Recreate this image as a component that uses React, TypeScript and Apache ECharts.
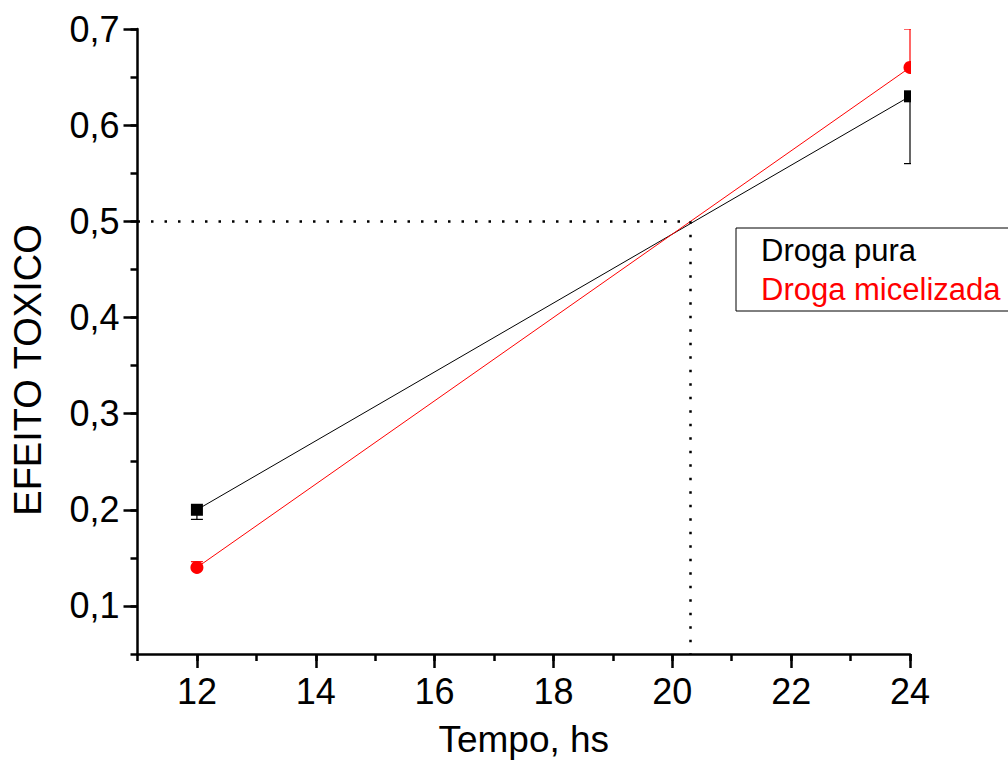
import React, { useEffect, useRef } from "react";
import * as echarts from "echarts";

// Time points (hours)
const timeHours = [12, 24];

// Toxic effect, pure drug (error shown downward)
const pureEffect = [0.2, 0.63];
const pureErrorDown = [0.01, 0.07];

// Toxic effect, micellized drug (error shown upward)
const micelleEffect = [0.14, 0.66];
const micelleErrorUp = [0.006, 0.04];

// Reference guide: 50% effect crossing
const crossTime = 20.3;
const crossEffect = 0.5;

const xMajorTicks = [12, 14, 16, 18, 20, 22, 24];
const yMajorTicks = [0.1, 0.2, 0.3, 0.4, 0.5, 0.6, 0.7];

const X_MIN = 11;
const X_MAX = 24;
const Y_MIN = 0.05;
const Y_MAX = 0.7;

const FONT = "'Liberation Sans', Arial, sans-serif";
const RED = "#ff0000";

type Marker = "square" | "circle";

function errorSeries(
  name: string,
  ys: number[],
  errs: number[],
  dir: 1 | -1,
  color: string,
  marker: Marker
) {
  const data = timeHours.map((t, i) => [t, ys[i], ys[i] + dir * errs[i]]);
  return {
    type: "custom",
    name: name + " (erro)",
    xAxisIndex: 0,
    yAxisIndex: 0,
    clip: true,
    silent: true,
    z: 5,
    data,
    renderItem: (_params: any, api: any) => {
      const x = api.value(0);
      const y = api.value(1);
      const e = api.value(2);
      const c = api.coord([x, y]);
      const ce = api.coord([x, e]);
      const capHalf = 6;
      const children: any[] = [
        {
          type: "line",
          shape: { x1: c[0], y1: c[1], x2: ce[0], y2: ce[1] },
          style: { stroke: color, lineWidth: 1.2 },
        },
        {
          type: "line",
          shape: { x1: ce[0] - capHalf, y1: ce[1], x2: ce[0] + capHalf, y2: ce[1] },
          style: { stroke: color, lineWidth: 1.2 },
        },
      ];
      if (marker === "square") {
        children.push({
          type: "rect",
          shape: { x: c[0] - 6, y: c[1] - 6, width: 12, height: 12 },
          style: { fill: color },
        });
      } else {
        children.push({
          type: "circle",
          shape: { cx: c[0], cy: c[1], r: 6.5 },
          style: { fill: color },
        });
      }
      return { type: "group", children };
    },
  };
}

export default function App() {
  const ref = useRef<HTMLDivElement>(null);

  useEffect(() => {
    if (!ref.current) return;
    const chart = echarts.init(ref.current, undefined, { renderer: "svg" });

    const axisLineStyle = { color: "#000", width: 2.5 };
    const tickStyle = { color: "#000", width: 2.5 };

    chart.setOption({
      animation: false,
      backgroundColor: "#fff",
      textStyle: { fontFamily: FONT, color: "#000" },
      grid: {
        left: 137.5,
        right: 98,
        top: 29,
        bottom: 110,
        containLabel: false,
        outerBoundsMode: "none",
      },
      xAxis: [
        {
          type: "value",
          min: X_MIN,
          max: X_MAX,
          position: "bottom",
          axisLine: { show: true, onZero: false, lineStyle: axisLineStyle },
          axisTick: {
            show: true,
            length: 14,
            lineStyle: tickStyle,
            customValues: xMajorTicks,
          },
          axisLabel: {
            customValues: xMajorTicks,
            fontSize: 36,
            color: "#000",
            fontFamily: FONT,
            margin: 19,
          },
          splitLine: { show: false },
          name: "Tempo, hs",
          nameLocation: "middle",
          nameGap: 67,
          nameTextStyle: { fontSize: 37, color: "#000", fontFamily: FONT },
        },
        {
          type: "value",
          min: X_MIN,
          max: X_MAX,
          interval: 1,
          position: "bottom",
          axisLine: { show: false, onZero: false },
          axisTick: { show: true, length: 7, lineStyle: tickStyle },
          axisLabel: { show: false },
          splitLine: { show: false },
        },
      ],
      yAxis: [
        {
          type: "value",
          min: Y_MIN,
          max: Y_MAX,
          position: "left",
          axisLine: { show: true, onZero: false, lineStyle: axisLineStyle },
          axisTick: {
            show: true,
            length: 14,
            lineStyle: tickStyle,
            customValues: yMajorTicks,
          },
          axisLabel: {
            customValues: yMajorTicks,
            fontSize: 36,
            color: "#000",
            fontFamily: FONT,
            margin: 18,
            formatter: (v: number) => v.toFixed(1).replace(".", ","),
          },
          splitLine: { show: false },
        },
        {
          type: "value",
          min: Y_MIN,
          max: Y_MAX,
          interval: 0.05,
          position: "left",
          axisLine: { show: false, onZero: false },
          axisTick: { show: true, length: 7, lineStyle: tickStyle },
          axisLabel: { show: false },
          splitLine: { show: false },
        },
      ],
      legend: {
        orient: "vertical",
        left: 736,
        top: 228,
        padding: [7, 60, 6, 20],
        itemGap: 8,
        itemWidth: 0,
        itemHeight: 30,
        icon: "rect",
        itemStyle: { opacity: 0 },
        lineStyle: { opacity: 0 },
        borderColor: "#000",
        borderWidth: 1,
        borderRadius: 0,
        selectedMode: false,
        textStyle: { fontSize: 31, fontFamily: FONT },
        data: [
          { name: "Droga pura", textStyle: { color: "#000" } },
          { name: "Droga micelizada", textStyle: { color: RED } },
        ],
      },
      graphic: [
        {
          type: "text",
          x: 27.5,
          y: 370,
          rotation: Math.PI / 2,
          style: {
            text: "EFEITO TOXICO",
            fontSize: 38,
            fontFamily: FONT,
            fill: "#000",
            align: "center",
            verticalAlign: "middle",
          },
        },
      ],
      series: [
        {
          type: "line",
          name: "Droga pura",
          xAxisIndex: 0,
          yAxisIndex: 0,
          data: timeHours.map((t, i) => [t, pureEffect[i]]),
          symbol: "none",
          color: "#000",
          lineStyle: { color: "#000", width: 1 },
          z: 3,
          markLine: {
            silent: true,
            symbol: ["none", "none"],
            label: { show: false },
            lineStyle: { color: "#000", width: 2.5, type: [2.5, 11] },
            data: [
              [{ coord: [X_MIN, crossEffect] }, { coord: [crossTime, crossEffect] }],
              [{ coord: [crossTime, crossEffect] }, { coord: [crossTime, Y_MIN] }],
            ],
          },
        },
        {
          type: "line",
          name: "Droga micelizada",
          xAxisIndex: 0,
          yAxisIndex: 0,
          data: timeHours.map((t, i) => [t, micelleEffect[i]]),
          symbol: "none",
          color: RED,
          lineStyle: { color: RED, width: 1 },
          z: 4,
        },
        errorSeries("Droga pura", pureEffect, pureErrorDown, -1, "#000", "square"),
        errorSeries("Droga micelizada", micelleEffect, micelleErrorUp, 1, RED, "circle"),
      ],
    });

    return () => chart.dispose();
  }, []);

  return (
    <div
      ref={ref}
      style={{ position: "fixed", left: 0, top: 0, width: 1008, height: 764 }}
    />
  );
}
